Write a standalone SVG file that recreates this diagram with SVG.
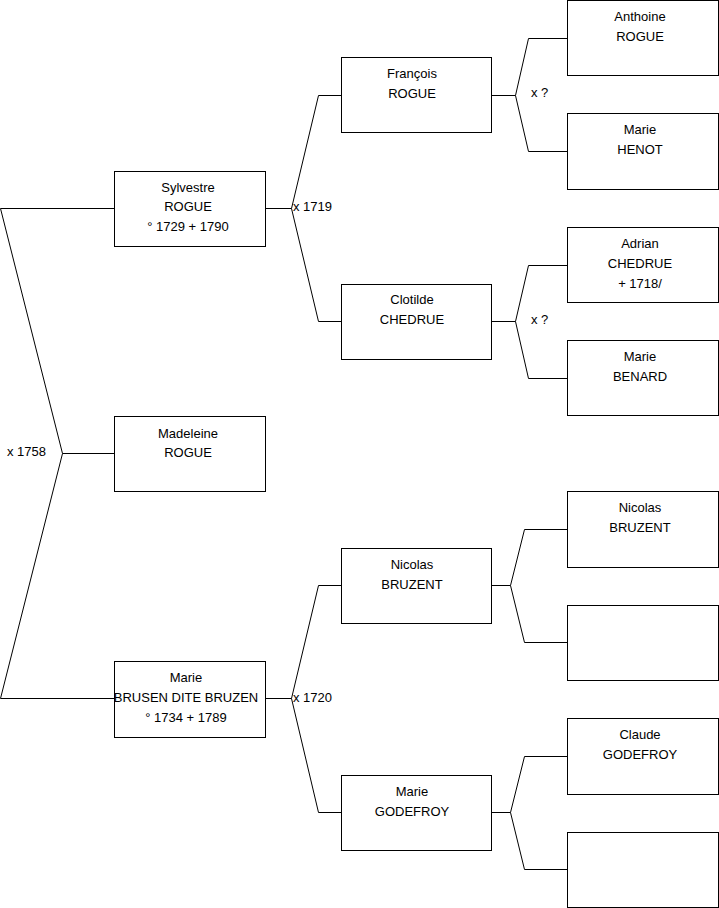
<svg xmlns="http://www.w3.org/2000/svg" width="719" height="908" viewBox="0 0 719 908">
<style>
.box{fill:#fff;stroke:#000;stroke-width:1}
.ln{fill:none;stroke:#000;stroke-width:1}
text{font-family:"Liberation Sans",Arial,sans-serif;font-size:13px;fill:#000}
.c{text-anchor:middle}
</style>
<rect width="719" height="908" fill="#fff"/>
<g id="connectors">
<path class="ln" d="M114.5,208.5 H0.5 L62.5,453.5 L0.5,698.5 H114.5 M62.5,453.5 H114.5"/>
<path class="ln" d="M265.5,208.5 H291.5 M341.5,95.5 H318.5 L291.5,208.5 L318.5,321.5 H341.5"/>
<path class="ln" d="M265.5,698.5 H291.5 M341.5,585.5 H318.5 L291.5,698.5 L318.5,812.5 H341.5"/>
<path class="ln" d="M491.5,95.5 H515.5 M567.5,38.5 H528.5 L515.5,95.5 L528.5,151.5 H567.5"/>
<path class="ln" d="M491.5,321.5 H515.5 M567.5,265.5 H528.5 L515.5,321.5 L528.5,378.5 H567.5"/>
<path class="ln" d="M491.5,585.5 H510.5 M567.5,529.5 H524.5 L510.5,585.5 L524.5,642.5 H567.5"/>
<path class="ln" d="M491.5,812.5 H510.5 M567.5,756.5 H524.5 L510.5,812.5 L524.5,869.5 H567.5"/>
<text x="7" y="456">x 1758</text>
<text x="293" y="211">x 1719</text>
<text x="293" y="702">x 1720</text>
<text x="531" y="97">x ?</text>
<text x="531" y="324">x ?</text>
</g>
<g id="sylvestre"><rect class="box" x="114.5" y="171.5" width="151" height="75"/>
<text class="c" x="188" y="192">Sylvestre</text><text class="c" x="188" y="211">ROGUE</text><text class="c" x="188" y="231">° 1729 + 1790</text></g>
<g id="madeleine"><rect class="box" x="114.5" y="416.5" width="151" height="75"/>
<text class="c" x="188" y="438">Madeleine</text><text class="c" x="188" y="457">ROGUE</text></g>
<g id="marie-brusen"><rect class="box" x="114.5" y="661.5" width="151" height="76"/>
<text class="c" x="186" y="682">Marie</text><text class="c" x="186" y="702">BRUSEN DITE BRUZEN</text><text class="c" x="186" y="722">° 1734 + 1789</text></g>
<g id="francois"><rect class="box" x="341.5" y="57.5" width="150" height="75"/>
<text class="c" x="412" y="78">François</text><text class="c" x="412" y="98">ROGUE</text></g>
<g id="clotilde"><rect class="box" x="341.5" y="284.5" width="150" height="75"/>
<text class="c" x="412" y="304">Clotilde</text><text class="c" x="412" y="324">CHEDRUE</text></g>
<g id="nicolas"><rect class="box" x="341.5" y="548.5" width="150" height="75"/>
<text class="c" x="412" y="569">Nicolas</text><text class="c" x="412" y="589">BRUZENT</text></g>
<g id="marie-godefroy"><rect class="box" x="341.5" y="775.5" width="150" height="75"/>
<text class="c" x="412" y="796">Marie</text><text class="c" x="412" y="816">GODEFROY</text></g>
<g id="anthoine"><rect class="box" x="567.5" y="0.5" width="151" height="75"/>
<text class="c" x="640" y="21">Anthoine</text><text class="c" x="640" y="41">ROGUE</text></g>
<g id="marie-henot"><rect class="box" x="567.5" y="113.5" width="151" height="76"/>
<text class="c" x="640" y="134">Marie</text><text class="c" x="640" y="154">HENOT</text></g>
<g id="adrian"><rect class="box" x="567.5" y="227.5" width="151" height="75"/>
<text class="c" x="640" y="248">Adrian</text><text class="c" x="640" y="268">CHEDRUE</text><text class="c" x="640" y="288">+ 1718/</text></g>
<g id="marie-benard"><rect class="box" x="567.5" y="340.5" width="151" height="75"/>
<text class="c" x="640" y="361">Marie</text><text class="c" x="640" y="381">BENARD</text></g>
<g id="nicolas-bruzent"><rect class="box" x="567.5" y="491.5" width="151" height="76"/>
<text class="c" x="640" y="512">Nicolas</text><text class="c" x="640" y="532">BRUZENT</text></g>
<g id="empty-1"><rect class="box" x="567.5" y="605.5" width="151" height="75"/></g>
<g id="claude"><rect class="box" x="567.5" y="718.5" width="151" height="76"/>
<text class="c" x="640" y="739">Claude</text><text class="c" x="640" y="759">GODEFROY</text></g>
<g id="empty-2"><rect class="box" x="567.5" y="832.5" width="151" height="75"/></g>
</svg>
